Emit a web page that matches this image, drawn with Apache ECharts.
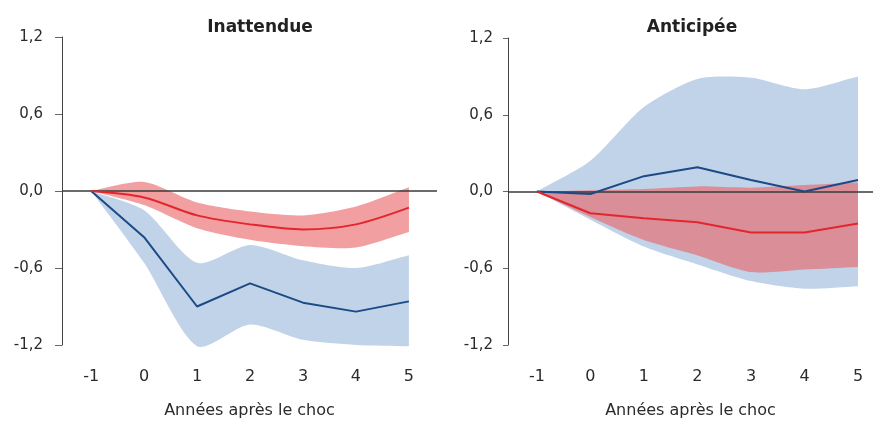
<!DOCTYPE html>
<html>
<head>
<meta charset="utf-8">
<script src="https://cdn.jsdelivr.net/npm/echarts@6/dist/echarts.min.js"></script>
<style>
  html, body { margin: 0; padding: 0; background: #fff; }
  #chart { width: 873px; height: 422px; }
</style>
</head>
<body>
<div id="chart"></div>
<script>
// années après le choc
const years = [-1, 0, 1, 2, 3, 4, 5];
const yTicks = [-1.2, -0.6, 0, 0.6, 1.2];

// Inattendue
const surpBlue = [0, -0.36, -0.90, -0.72, -0.87, -0.94, -0.86];
const surpBlueLow = [0, -0.56, -1.21, -1.04, -1.16, -1.20, -1.21];
const surpBlueHigh = [0, -0.15, -0.56, -0.42, -0.54, -0.60, -0.50];
const surpRed = [0, -0.05, -0.19, -0.26, -0.30, -0.26, -0.13];
const surpRedLow = [0, -0.11, -0.29, -0.38, -0.43, -0.44, -0.32];
const surpRedHigh = [0, 0.07, -0.09, -0.16, -0.19, -0.12, 0.03];

// Anticipée
const antBlue = [0, -0.02, 0.12, 0.19, 0.09, 0.0, 0.09];
const antBlueLow = [0, -0.22, -0.43, -0.57, -0.70, -0.76, -0.74];
const antBlueHigh = [0, 0.24, 0.66, 0.88, 0.89, 0.80, 0.90];
const antRed = [0, -0.17, -0.21, -0.24, -0.32, -0.32, -0.25];
const antRedLow = [0, -0.20, -0.38, -0.50, -0.63, -0.61, -0.59];
const antRedHigh = [0, 0.01, 0.02, 0.04, 0.03, 0.05, 0.07];

const BLUE = '#1b4a86';
const RED = '#e3262e';
const BLUE_BAND = 'rgb(193,211,232)';
const RED_BAND = 'rgba(233,100,104,0.62)';
const FONT = 'DejaVu Sans';
const INK = '#2b2b2b';

const pts = arr => years.map((x, i) => [x, arr[i]]);

// bande de confiance : un polygone (borne haute puis borne basse à rebours)
// les coins à droite sont doublés pour garder une coupe verticale nette
function band(idx, low, high, color) {
  return {
    type: 'custom', xAxisIndex: idx, yAxisIndex: idx, silent: true,
    data: years.map((x, i) => [x, low[i], high[i]]),
    encode: { x: 0, y: [1, 2] },
    renderItem: (params, api) => {
      if (params.dataIndex !== 0) return null;
      const top = years.map((x, i) => api.coord([x, high[i]]));
      const bot = years.map((x, i) => api.coord([x, low[i]])).reverse();
      const points = top.concat([top[top.length - 1], bot[0]], bot);
      return {
        type: 'polygon',
        shape: { points, smooth: 0.25 },
        style: { fill: color }
      };
    },
    z: 1
  };
}

function line(idx, values, color, smooth) {
  return {
    type: 'line', xAxisIndex: idx, yAxisIndex: idx, data: pts(values),
    symbol: 'none', smooth, lineStyle: { color, width: 2 }, z: 5
  };
}

function zeroLine(idx) {
  return {
    type: 'line', xAxisIndex: idx, yAxisIndex: idx, data: [], symbol: 'none',
    markLine: {
      silent: true, symbol: 'none', label: { show: false },
      lineStyle: { color: '#3a3a3a', width: 1.5, type: 'solid' },
      data: [{ yAxis: 0 }]
    }, z: 6
  };
}

const yAxisBase = (gridIndex, margin, tickLen) => ({
  gridIndex, type: 'value', min: -1.2, max: 1.2, interval: 0.6,
  splitLine: { show: false },
  axisLine: { show: true, onZero: false, lineStyle: { color: '#444', width: 1 } },
  axisTick: { show: true, length: tickLen, lineStyle: { color: '#666' } },
  axisLabel: {
    color: INK, fontSize: 15, fontFamily: FONT, margin,
    formatter: v => v.toFixed(1).replace('.', ',')
  }
});

const xAxisBase = (gridIndex, min, max) => ({
  gridIndex, type: 'value', min, max,
  splitLine: { show: false },
  axisLine: { show: false, onZero: false },
  axisTick: { show: false },
  axisLabel: {
    color: INK, fontSize: 16, fontFamily: FONT, margin: 24,
    customValues: years, formatter: v => String(v)
  },
  name: 'Années après le choc', nameLocation: 'middle', nameGap: 58,
  nameTextStyle: { color: INK, fontSize: 16, fontFamily: FONT }
});

const titleStyle = { fontSize: 17, fontWeight: 'bold', color: '#222', fontFamily: FONT };

const chart = echarts.init(document.getElementById('chart'));
chart.setOption({
  animation: false,
  backgroundColor: '#fff',
  title: [
    { text: 'Inattendue', left: 255, top: 14, textAlign: 'center', textStyle: titleStyle },
    { text: 'Anticipée', left: 687, top: 14, textAlign: 'center', textStyle: titleStyle }
  ],
  grid: [
    { left: 62, right: 436, top: 37, bottom: 77, outerBoundsMode: 'none', containLabel: false },
    { left: 508, right: 0, top: 38, bottom: 77, outerBoundsMode: 'none', containLabel: false }
  ],
  xAxis: [
    xAxisBase(0, -1.55, 5.53),
    xAxisBase(1, -1.54, 5.28)
  ],
  yAxis: [
    yAxisBase(0, 19, 7),
    yAxisBase(1, 15, 5)
  ],
  series: [
    band(0, surpBlueLow, surpBlueHigh, BLUE_BAND),
    band(0, surpRedLow, surpRedHigh, RED_BAND),
    line(0, surpBlue, BLUE, false),
    line(0, surpRed, RED, 0.3),
    zeroLine(0),
    band(1, antBlueLow, antBlueHigh, BLUE_BAND),
    band(1, antRedLow, antRedHigh, RED_BAND),
    line(1, antBlue, BLUE, false),
    line(1, antRed, RED, false),
    zeroLine(1)
  ]
});
</script>
</body>
</html>
